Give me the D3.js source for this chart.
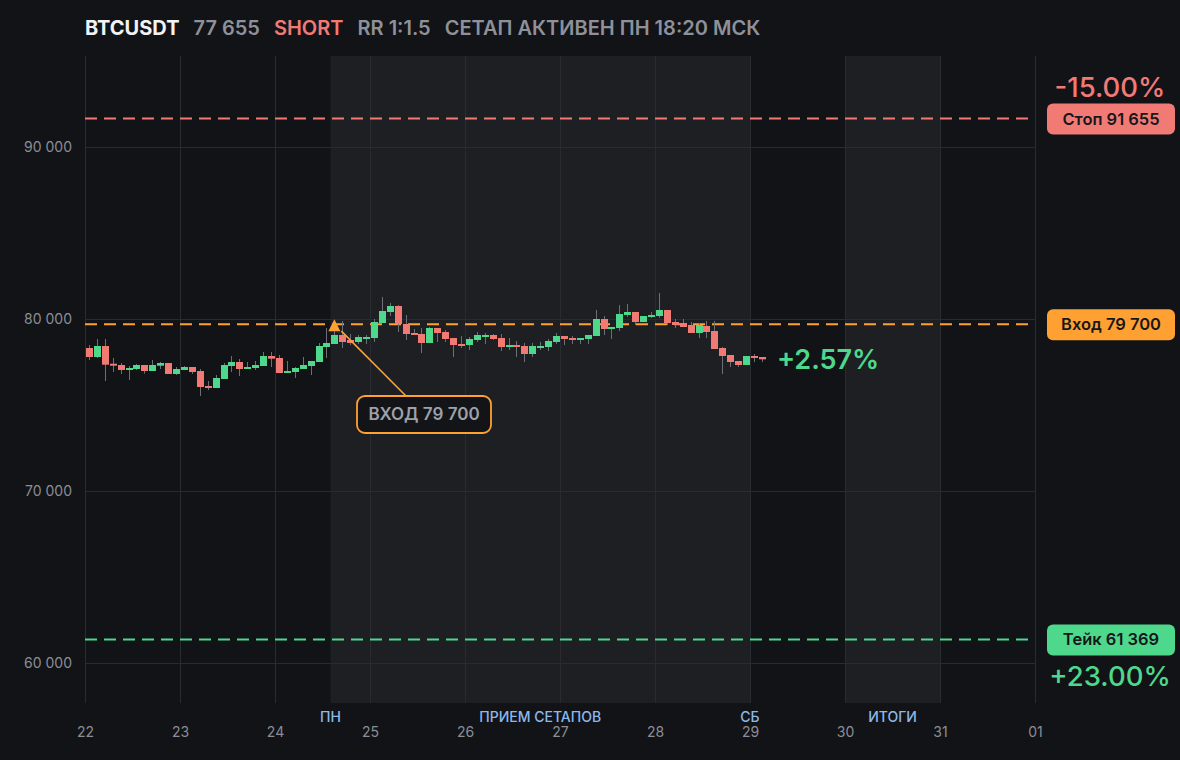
<!DOCTYPE html>
<html>
<head>
<meta charset="utf-8">
<script src="https://cdn.jsdelivr.net/npm/d3@7"></script>
<style>
    html, body { margin: 0; padding: 0; background: #121317; }
    svg { display: block; font-family: Inter, "Noto Sans", sans-serif; }
</style>
</head>
<body>
<div id="chart"></div>
<script>
// 2h candles, BTCUSDT, starting 22 Mar 00:00 UTC
const candleStart = Date.UTC(2025, 2, 22, 0);
const candleStepHours = 2;

const opens = [78314, 77791, 78430, 77401, 77326, 77035, 77093, 77326, 76977, 77285, 77442, 76803, 77035, 77209, 76977, 76105, 75989, 76512, 77267, 77500, 77093, 77151, 77267, 77849, 77733, 76861, 76919, 77093, 77267, 77500, 78372, 78547, 79070, 78779, 78663, 78837, 78895, 79767, 80407, 80756, 79709, 79186, 79128, 78605, 79477, 79244, 78895, 78547, 78488, 78779, 78954, 79070, 78895, 78372, 78488, 78430, 77965, 78314, 78372, 78663, 79012, 78895, 78779, 78837, 79012, 80000, 79419, 79477, 80233, 80407, 79826, 80116, 80174, 80523, 79826, 79767, 79651, 79186, 79593, 79302, 78314, 77907, 77558, 77326, 77849, 77791];
const highs = [78488, 78837, 78837, 77733, 77442, 77267, 77384, 77326, 77616, 77500, 77442, 77209, 77267, 77209, 77093, 76395, 76744, 77442, 77849, 77674, 77500, 77558, 78081, 78081, 77907, 77558, 77209, 77791, 77558, 78605, 79477, 79302, 79884, 79128, 79070, 79070, 80000, 81279, 80930, 80814, 80233, 79419, 79477, 79535, 79477, 79361, 78895, 79012, 78954, 79244, 79186, 79128, 79128, 78895, 78721, 78605, 78605, 78663, 78837, 79186, 79012, 79012, 78895, 79070, 80523, 80174, 79535, 80814, 80872, 80407, 80174, 80407, 81512, 80523, 80000, 80000, 79826, 79767, 79884, 79884, 78372, 77907, 77558, 77849, 77965, 77791];
const lows = [77616, 77733, 76395, 76919, 76803, 76453, 77035, 76820, 76977, 77093, 76803, 76745, 77035, 76803, 75523, 75872, 75989, 76512, 76919, 76686, 77093, 77035, 77267, 77209, 76861, 76861, 76570, 77093, 76744, 77500, 77733, 78547, 78314, 78488, 78547, 78547, 78663, 79767, 80174, 79244, 78779, 79070, 78023, 78605, 78663, 78663, 77791, 78314, 78198, 78663, 78547, 78779, 78140, 78198, 77791, 77500, 77791, 78198, 78140, 78547, 78488, 78547, 78547, 78547, 79012, 79070, 78837, 79302, 80116, 79651, 79826, 80058, 80058, 79651, 79477, 79535, 79186, 78895, 78895, 78256, 76803, 77209, 77209, 77326, 77500, 77500];
const closes = [77791, 78430, 77343, 77285, 77035, 77151, 77326, 76977, 77326, 77442, 76803, 77093, 77209, 76919, 76047, 75989, 76570, 77326, 77500, 77093, 77209, 77326, 77849, 77692, 76861, 76977, 77151, 77326, 77558, 78430, 78605, 79070, 78663, 78605, 78954, 78954, 79826, 80465, 80756, 79709, 79128, 79070, 78605, 79477, 79186, 78837, 78488, 78430, 78837, 79070, 79070, 78837, 78372, 78488, 78372, 77965, 78430, 78430, 78721, 79012, 78837, 78779, 78895, 79070, 80000, 79419, 79535, 80291, 80407, 79826, 80174, 80233, 80523, 79767, 79651, 79535, 79186, 79651, 79244, 78256, 77849, 77500, 77326, 77849, 77733, 77655];

const priceTicks = [60000, 70000, 80000, 90000];
const dayTickLabels = ["22", "23", "24", "25", "26", "27", "28", "29", "30", "31", "01"];

// setup levels
const stopPrice = 91655;
const entryPrice = 79700;
const takePrice = 61369;
const entryTime = Date.UTC(2025, 2, 24, 15);
const stopPct = "-15.00%";
const takePct = "+23.00%";
const currentPct = "+2.57%";

// shaded week zones
const zoneStarts = [Date.UTC(2025, 2, 24, 14), Date.UTC(2025, 2, 30, 0)];
const zoneEnds = [Date.UTC(2025, 2, 29, 0), Date.UTC(2025, 2, 31, 0)];
const zoneLabels = [
    { text: "ПН", time: Date.UTC(2025, 2, 24, 14) },
    { text: "ПРИЕМ СЕТАПОВ", time: Date.UTC(2025, 2, 26, 19) },
    { text: "СБ", time: Date.UTC(2025, 2, 29, 0) },
    { text: "ИТОГИ", time: Date.UTC(2025, 2, 30, 12) }
];

const headerParts = [
    { text: "BTCUSDT", color: "#f2f3f5", weight: 700 },
    { text: "77 655", color: "#8e9199", weight: 600 },
    { text: "SHORT", color: "#f27a75", weight: 600 },
    { text: "RR 1:1.5", color: "#8e9199", weight: 600 },
    { text: "СЕТАП АКТИВЕН ПН 18:20 МСК", color: "#8e9199", weight: 600 }
];

const colors = {
    bg: "#121317",
    zone: "#1e1f23",
    grid: "#2a2b31",
    up: "#4dd88c",
    down: "#f27a75",
    entry: "#ffa032",
    wick: "#6c6f77",
    axisText: "#8b8e96",
    zoneText: "#8cb9eb"
};

const width = 1180, height = 760;
const plot = { left: 85, right: 1035, top: 56, bottom: 703 };

const svg = d3.select("#chart")
    .append("svg")
    .attr("width", width)
    .attr("height", height);

svg.append("rect").attr("width", width).attr("height", height).attr("fill", colors.bg);

const x = d3.scaleUtc()
    .domain([Date.UTC(2025, 2, 22), Date.UTC(2025, 3, 1)])
    .range([plot.left, plot.right]);

const y = d3.scaleLinear()
    .domain([60000, 90000])
    .range([663, 147]);

const candles = opens.map((o, i) => ({
    t: new Date(candleStart + i * candleStepHours * 3600e3),
    o: o, h: highs[i], l: lows[i], c: closes[i]
}));

// zones
svg.append("g")
    .selectAll("rect")
    .data(zoneStarts)
    .join("rect")
    .attr("x", (d) => x(d))
    .attr("y", plot.top)
    .attr("width", (d, i) => x(zoneEnds[i]) - x(d))
    .attr("height", plot.bottom - plot.top)
    .attr("fill", colors.zone);

// grid
const dayTicks = x.ticks(d3.utcDay.every(1));
svg.append("g")
    .selectAll("line")
    .data(dayTicks)
    .join("line")
    .attr("x1", (d) => Math.round(x(d)) + 0.5)
    .attr("x2", (d) => Math.round(x(d)) + 0.5)
    .attr("y1", plot.top)
    .attr("y2", plot.bottom)
    .attr("stroke", colors.grid)
    .attr("stroke-width", 1);

svg.append("g")
    .selectAll("line")
    .data(priceTicks)
    .join("line")
    .attr("x1", plot.left)
    .attr("x2", plot.right)
    .attr("y1", (d) => Math.round(y(d)) + 0.5)
    .attr("y2", (d) => Math.round(y(d)) + 0.5)
    .attr("stroke", colors.grid)
    .attr("stroke-width", 1);

// y axis labels
const fmt = (v) => d3.format(",")(v).replace(/,/g, " ");
const yAxis = d3.axisLeft(y).tickValues(priceTicks).tickFormat(fmt).tickSize(0).tickPadding(0);
const yg = svg.append("g").attr("transform", `translate(${plot.left - 13},0)`).call(yAxis);
yg.select(".domain").remove();
yg.selectAll("text")
    .attr("fill", colors.axisText)
    .attr("font-size", "14px")
    .attr("font-family", "Inter, sans-serif");

// x axis labels
const xAxis = d3.axisBottom(x).tickValues(dayTicks).tickFormat((d, i) => dayTickLabels[i]).tickSize(0).tickPadding(0);
const xg = svg.append("g").attr("transform", `translate(0,${727})`).call(xAxis);
xg.select(".domain").remove();
xg.selectAll("text")
    .attr("fill", colors.axisText)
    .attr("font-size", "14px")
    .attr("font-family", "Inter, sans-serif");

// zone labels
svg.append("g")
    .selectAll("text")
    .data(zoneLabels)
    .join("text")
    .attr("x", (d) => x(d.time))
    .attr("y", 722)
    .attr("text-anchor", "middle")
    .attr("font-size", "14px")
    .attr("font-weight", 500)
    .attr("fill", colors.zoneText)
    .text((d) => d.text);

// level lines
const levels = [
    { price: stopPrice, color: colors.down, label: "Стоп " + fmt(stopPrice) },
    { price: entryPrice, color: colors.entry, label: "Вход " + fmt(entryPrice) },
    { price: takePrice, color: colors.up, label: "Тейк " + fmt(takePrice) }
];

svg.append("g")
    .selectAll("line")
    .data(levels)
    .join("line")
    .attr("x1", plot.left)
    .attr("x2", plot.right - 5)
    .attr("y1", (d) => y(d.price))
    .attr("y2", (d) => y(d.price))
    .attr("stroke", (d) => d.color)
    .attr("stroke-width", 2)
    .attr("stroke-dasharray", "12 7");

// candles
const bodyW = 7;
const cg = svg.append("g");
const cx = (d) => x(new Date(+d.t + 3600e3));

cg.selectAll("line")
    .data(candles)
    .join("line")
    .attr("x1", (d) => Math.round(cx(d)) + 0.5)
    .attr("x2", (d) => Math.round(cx(d)) + 0.5)
    .attr("y1", (d) => y(d.h))
    .attr("y2", (d) => y(d.l))
    .attr("stroke", colors.wick)
    .attr("stroke-width", 1);

cg.selectAll("rect")
    .data(candles)
    .join("rect")
    .attr("x", (d) => Math.round(cx(d)) + 0.5 - bodyW / 2)
    .attr("y", (d) => y(Math.max(d.o, d.c)))
    .attr("width", bodyW)
    .attr("height", (d) => Math.max(2, Math.abs(y(d.o) - y(d.c))))
    .attr("fill", (d) => d.c >= d.o ? colors.up : colors.down);

// entry marker + callout
const ex = x(entryTime), ey = y(entryPrice);
svg.append("path")
    .attr("d", `M${ex},${ey - 5} L${ex + 6},${ey + 7} L${ex - 6},${ey + 7} Z`)
    .attr("fill", colors.entry);

const box = { x: 357, y: 396, w: 134, h: 37 };
svg.append("line")
    .attr("x1", ex + 7)
    .attr("y1", ey + 7)
    .attr("x2", box.x + 49)
    .attr("y2", box.y)
    .attr("stroke", colors.entry)
    .attr("stroke-width", 1.6);

svg.append("rect")
    .attr("x", box.x)
    .attr("y", box.y)
    .attr("width", box.w)
    .attr("height", box.h)
    .attr("rx", 8)
    .attr("fill", "#131418")
    .attr("stroke", colors.entry)
    .attr("stroke-width", 1.8);

svg.append("text")
    .attr("x", box.x + box.w / 2)
    .attr("y", box.y + 24)
    .attr("text-anchor", "middle")
    .attr("font-size", "17px")
    .attr("font-weight", 600)
    .attr("fill", "#9ea1a9")
    .text("ВХОД " + fmt(entryPrice));

// right side tags
const tags = svg.append("g")
    .selectAll("g")
    .data(levels)
    .join("g")
    .attr("transform", (d) => `translate(1047,${y(d.price) - 15})`);

tags.append("rect")
    .attr("width", 128)
    .attr("height", 31)
    .attr("rx", 6)
    .attr("fill", (d) => d.color);

tags.append("text")
    .attr("x", 64)
    .attr("y", 21)
    .attr("text-anchor", "middle")
    .attr("font-size", "16.5px")
    .attr("font-weight", 600)
    .attr("fill", "#16171b")
    .text((d) => d.label);

// percentages
svg.append("text")
    .attr("x", 1110).attr("y", 97)
    .attr("text-anchor", "middle")
    .attr("font-size", "27.5px")
    .attr("font-weight", 500)
    .attr("fill", colors.down)
    .text(stopPct);

svg.append("text")
    .attr("x", 1110).attr("y", 686)
    .attr("text-anchor", "middle")
    .attr("font-size", "27.5px")
    .attr("font-weight", 500)
    .attr("fill", colors.up)
    .text(takePct);

const last = candles[candles.length - 1];
svg.append("text")
    .attr("x", cx(last) + 15)
    .attr("y", y(last.c) + 10)
    .attr("font-size", "27px")
    .attr("font-weight", 600)
    .attr("fill", colors.up)
    .text(currentPct);

// header
let hx = plot.left;
headerParts.forEach((p) => {
    const t = svg.append("text")
        .attr("x", hx)
        .attr("y", 35)
        .attr("font-size", "20px")
        .attr("font-weight", p.weight)
        .attr("fill", p.color)
        .text(p.text);
    hx += t.node().getComputedTextLength() + 14;
});
</script>
</body>
</html>
